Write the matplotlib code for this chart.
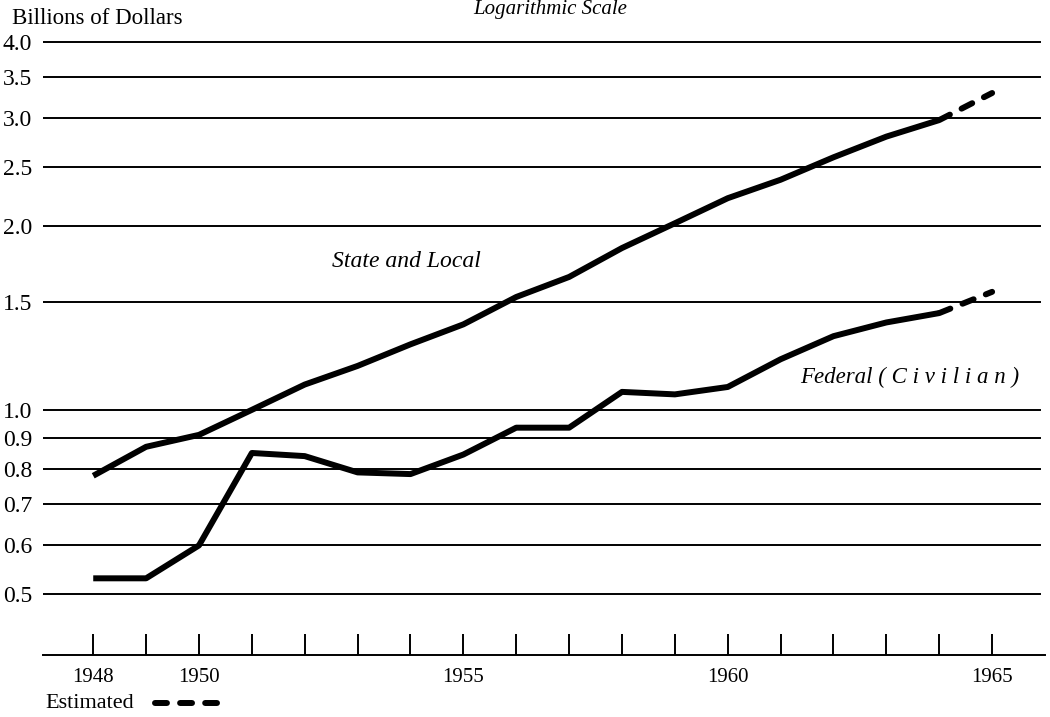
import matplotlib.pyplot as plt
from matplotlib.lines import Line2D

plt.rcParams['font.family'] = ['Liberation Serif', 'DejaVu Serif']

years = list(range(1948, 1966))
state_local = [0.78, 0.87, 0.91, 1.0, 1.10, 1.18, 1.28, 1.38, 1.53, 1.65, 1.84, 2.02, 2.22, 2.38, 2.59, 2.80, 2.98, 3.30]
federal = [0.53, 0.53, 0.60, 0.85, 0.84, 0.79, 0.785, 0.845, 0.935, 0.935, 1.07, 1.06, 1.09, 1.21, 1.32, 1.39, 1.44, 1.56]
n_actual = 17  # 1948-1964 actual, 1965 estimated

grid_vals = [0.5, 0.6, 0.7, 0.8, 0.9, 1.0, 1.5, 2.0, 2.5, 3.0, 3.5, 4.0]
grid_labels = ['0.5', '0.6', '0.7', '0.8', '0.9', '1.0', '1.5', '2.0', '2.5', '3.0', '3.5', '4.0']
year_labels = {1948: '1948', 1950: '1950', 1955: '1955', 1960: '1960', 1965: '1965'}

fig = plt.figure(figsize=(10.5, 7.17), dpi=100)
ax = fig.add_axes([43 / 1050, 62 / 717, 1002 / 1050, 617 / 717])
ax.set_yscale('log')
ax.set_xlim(1947.05, 1966.0)
ax.set_ylim(0.397, 4.06)

for v in grid_vals:
    ax.plot([1947.05, 1965.9], [v, v], color='black', lw=1.4, zorder=1)

dash = (2.0, 2.2)
ax.plot(years[:n_actual], state_local[:n_actual], color='black', lw=4.3,
        solid_capstyle='butt', solid_joinstyle='round', zorder=3)
ax.plot(years[n_actual - 1:], state_local[n_actual - 1:], color='black', lw=4.3,
        dashes=dash, dash_capstyle='round', zorder=3)
ax.plot(years[:n_actual], federal[:n_actual], color='black', lw=4.3,
        solid_capstyle='butt', solid_joinstyle='round', zorder=3)
ax.plot(years[n_actual - 1:], federal[n_actual - 1:], color='black', lw=4.3,
        dashes=dash, dash_capstyle='round', zorder=3)

# axes styling
for s in ['top', 'right', 'left']:
    ax.spines[s].set_visible(False)
ax.spines['bottom'].set_linewidth(1.4)
ax.set_yticks(grid_vals)
ax.set_yticklabels(grid_labels)
ax.yaxis.set_minor_locator(plt.NullLocator())
ax.tick_params(axis='y', length=0, pad=8, labelsize=17)
ax.set_xticks(years)
ax.set_xticklabels([year_labels.get(y, '') for y in years])
ax.tick_params(axis='x', direction='in', length=15, width=1.4, pad=9, labelsize=15)

ax.text(1952.52, 1.747, 'State and Local', fontsize=17, style='italic', va='center')
ax.text(1961.37, 1.128, 'Federal ( C i v i l i a n )', fontsize=16.5, style='italic',
        va='center')

fig.text(12 / 1050, 1 - 18 / 717, 'Billions of Dollars', fontsize=16.5, va='center')
fig.text(550 / 1050, 1.0, 'Logarithmic Scale', fontsize=15, style='italic',
         ha='center', va='top')
fig.text(45 / 1050, 1 - 704 / 717, 'Estimated', fontsize=16, va='center')
fig.add_artist(Line2D([155 / 1050, 217 / 1050], [1 - 703 / 717, 1 - 703 / 717],
                      transform=fig.transFigure, color='black', lw=4.3,
                      dashes=dash, dash_capstyle='round'))

fig.savefig('out.png', dpi=100)
